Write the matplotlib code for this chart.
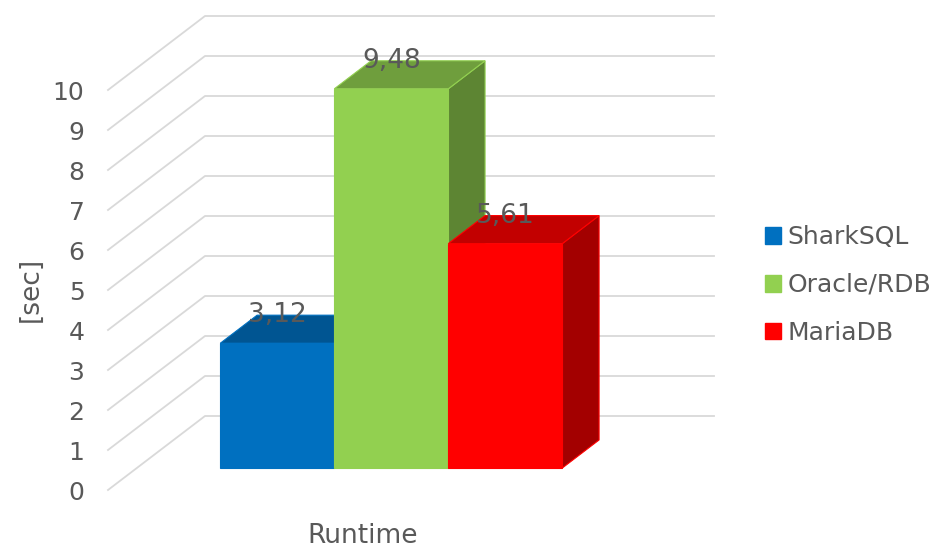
import numpy as np
import matplotlib.pyplot as plt
from matplotlib.patches import Polygon, Patch
from matplotlib.colors import to_rgb

# Data
SERIES = ["SharkSQL", "Oracle/RDB", "MariaDB"]
RUNTIMES = [3.12, 9.48, 5.61]
COLORS = ["#0070C0", "#92D050", "#FF0000"]
CATEGORY = "Runtime"
Y_TICKS = list(range(11))

TEXT_COLOR = "#595959"
GRID_COLOR = "#D9D9D9"
plt.rcParams["font.family"] = ["DejaVu Sans"]

# oblique "3D" geometry (x in bar widths, y in data units)
FLOOR_W = 4.465   # front width of the floor
DX, DY = 0.851, 1.85  # full depth offset
T_FRONT, T_BACK = 0.297, 0.676  # depth range of the bars


def shade(color, f):
    r, g, b = to_rgb(color)
    return (r * f, g * f, b * f)


def main() -> None:
    fig = plt.figure(figsize=(9.41, 5.48), dpi=100)
    ax = fig.add_axes([108 / 941, 58 / 548, 606 / 941, 474 / 548])
    ax.set_xlim(0, FLOOR_W + DX)
    ax.set_ylim(0, 10 + DY)
    for s in ax.spines.values():
        s.set_visible(False)

    # y axis on the front-left edge
    ax.set_yticks(Y_TICKS)
    ax.set_yticklabels([str(t) for t in Y_TICKS])
    ax.tick_params(axis="y", length=0, pad=17, labelsize=18, labelcolor=TEXT_COLOR)
    ax.set_xticks([FLOOR_W / 2])
    ax.set_xticklabels([CATEGORY])
    ax.tick_params(axis="x", length=0, pad=24, labelsize=19, labelcolor=TEXT_COLOR)

    # back wall + side wall gridlines
    for v in Y_TICKS:
        ax.plot([0, DX, FLOOR_W + DX], [v, v + DY, v + DY],
                color=GRID_COLOR, lw=1.3, clip_on=False, zorder=1)

    fdx, fdy = T_FRONT * DX, T_FRONT * DY
    bdx, bdy = T_BACK * DX, T_BACK * DY
    n = len(RUNTIMES)
    for i, (h, c) in enumerate(zip(RUNTIMES, COLORS)):
        x0 = FLOOR_W / 2 - n / 2 + i
        x1 = x0 + 1
        side = [(x1 + fdx, fdy), (x1 + bdx, bdy), (x1 + bdx, h + bdy), (x1 + fdx, h + fdy)]
        top = [(x0 + fdx, h + fdy), (x1 + fdx, h + fdy), (x1 + bdx, h + bdy), (x0 + bdx, h + bdy)]
        front = [(x0 + fdx, fdy), (x1 + fdx, fdy), (x1 + fdx, h + fdy), (x0 + fdx, h + fdy)]
        z = 2 + i
        ax.add_patch(Polygon(side, closed=True, fc=shade(c, 0.64), ec=c, lw=0.8, zorder=z, clip_on=False))
        ax.add_patch(Polygon(top, closed=True, fc=shade(c, 0.76), ec=c, lw=0.8, zorder=z, clip_on=False))
        ax.add_patch(Polygon(front, closed=True, fc=c, ec=c, lw=0.8, zorder=z, clip_on=False))

    # value labels
    for i, h in enumerate(RUNTIMES):
        xc = FLOOR_W / 2 - n / 2 + i + 0.5 + fdx
        ax.text(xc, h + bdy, f"{h:.2f}".replace(".", ","), ha="center", va="center",
                fontsize=19, color=TEXT_COLOR, zorder=10, clip_on=False)

    fig.text(31 / 941, 1 - 289 / 548, "[sec]", rotation=90, ha="center", va="center",
             fontsize=19, color=TEXT_COLOR)

    handles = [Patch(facecolor=c, edgecolor=c, label=s) for s, c in zip(SERIES, COLORS)]
    fig.legend(handles=handles, loc="center left", bbox_to_anchor=(765 / 941, 1 - 285 / 548),
               frameon=False, fontsize=18, labelcolor=TEXT_COLOR, handlelength=0.65,
               handleheight=0.65, handletextpad=0.25, labelspacing=0.95,
               borderpad=0, borderaxespad=0)

    fig.savefig("out.png", dpi=100)


if __name__ == "__main__":
    main()
